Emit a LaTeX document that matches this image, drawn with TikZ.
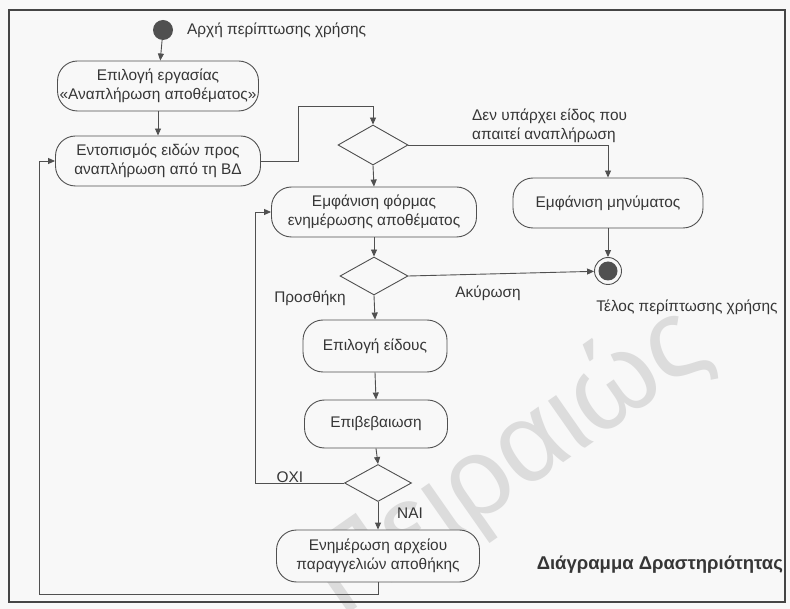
\documentclass[tikz,border=0pt]{standalone}
\usepackage{fontspec}
\setmainfont{Liberation Sans}
\usetikzlibrary{arrows.meta,shapes.geometric}
\definecolor{ink}{HTML}{363636}
\definecolor{wire}{HTML}{505050}
\definecolor{paper}{HTML}{F8F8F8}
\definecolor{frameink}{HTML}{454545}
\definecolor{dot}{HTML}{505050}
\definecolor{mark}{HTML}{DCDCDC}

\begin{document}
\begin{tikzpicture}[x=1pt,y=-1pt,
  font=\fontsize{15.4}{19.5}\selectfont,
  text=ink,
  activity/.style={draw=wire, fill=paper, line width=0.9pt, rounded corners=20pt,
    minimum height=50pt, align=center, inner sep=0pt},
  decision/.style={diamond, draw=wire, fill=paper, line width=0.9pt,
    minimum width=70pt, minimum height=40pt, inner sep=0pt},
  flow/.style={draw=wire, line width=0.9pt, -{Triangle[length=7pt,width=6pt]}},
  lbl/.style={inner sep=0pt, align=center}
]
% page and clipping
\useasboundingbox (0,0) rectangle (790,609);
\fill[paper] (0,0) rectangle (790,609);
\clip (0,0) rectangle (790,609);

% watermark
\node[rotate=35, text=mark, font=\fontsize{113}{113}\selectfont] (wm) at (510,463) {Πειραιώς};

% frame
\draw[frameink, line width=2.4pt] (9,10) rectangle (785,602);

% initial and final states
\node[circle, fill=dot, minimum size=20pt, inner sep=0pt] (start) at (163,30) {};
\node[lbl, anchor=west] (startlbl) at (187,30) {Αρχή περίπτωσης χρήσης};
\node[circle, draw=wire, line width=0.9pt, fill=paper, minimum size=27pt, inner sep=0pt] (end) at (608,271) {};
\node[circle, fill=dot, minimum size=19pt, inner sep=0pt] (endin) at (end) {};
\node[lbl] (endlbl) at (687,307) {Τέλος περίπτωσης χρήσης};

% activities
\node[activity, minimum width=201pt] (A) at (158,86) {Επιλογή εργασίας\\«Αναπλήρωση αποθέματος»};
\node[activity, minimum width=205pt] (B) at (158,161) {Εντοπισμός ειδών προς\\αναπλήρωση από τη ΒΔ};
\node[activity, minimum width=205pt] (F) at (374,212) {Εμφάνιση φόρμας\\ενημέρωσης αποθέματος};
\node[activity, minimum width=190pt] (M) at (608,203) {Εμφάνιση μηνύματος};
\node[activity, minimum width=144pt, minimum height=52pt] (S) at (375,346) {Επιλογή είδους};
\node[activity, minimum width=143pt, minimum height=48pt] (E) at (376,424) {Επιβεβαιωση};
\node[activity, minimum width=203pt, minimum height=52pt] (U) at (378,556) {Ενημέρωση αρχείου\\παραγγελιών αποθήκης};

% decisions
\node[decision] (D1) at (373,145) {};
\node[decision, minimum width=68pt, minimum height=38pt] (D2) at (374,276) {};
\node[decision, minimum width=67pt, minimum height=37pt] (D3) at (378,483) {};

% guard labels
\node[lbl, anchor=west, align=left] (g1) at (472,126) {Δεν υπάρχει είδος που\\απαιτεί αναπλήρωση};
\node[lbl] (g2) at (488,293) {Ακύρωση};
\node[lbl] (g3) at (310,298) {Προσθήκη};
\node[lbl] (g4) at (290,477) {ΟΧΙ};
\node[lbl] (g5) at (410,513) {ΝΑΙ};

% title
\node[lbl, anchor=east, font=\bfseries\fontsize{18.5}{22}\selectfont] (title) at (783,565) {Διάγραμμα Δραστηριότητας};

% bend points
\coordinate (j1) at (298,106);
\coordinate (lp1) at (255,212);
\coordinate (lp2) at (39,594);

% connectors
\draw[flow] (start) -- (A);
\draw[flow] (A) -- (B);
\draw[flow] (B.east) -| (j1) -| (D1.north);
\draw[flow] (D1.east) -| (M.north);
\draw[flow] (D1.south) -- (F.north);
\draw[flow] (M.south) -- (end.north);
\draw[flow] (F.south) -- (D2.north);
\draw[flow] (D2.east) -- (end);
\draw[flow] (D2.south) -- (S.north);
\draw[flow] (S.south) -- (E.north);
\draw[flow] (E.south) -- (D3.north);
\draw[flow] (D3.south) -- (U.north);
\draw[flow] (D3.west) -| (lp1) -- (F.west);
\draw[flow] (U.south) |- (lp2) |- (B.west);
\end{tikzpicture}
\end{document}
